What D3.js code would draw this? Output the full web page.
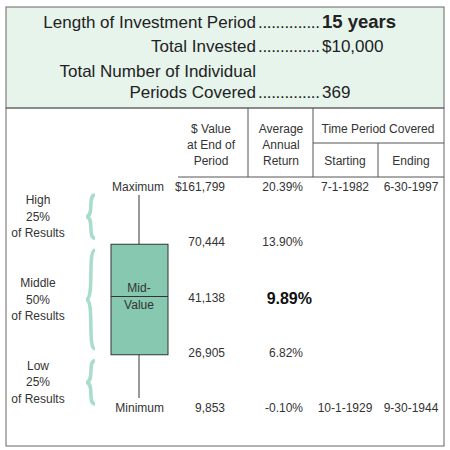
<!DOCTYPE html>
<html><head><meta charset="utf-8">
<script src="https://cdn.jsdelivr.net/npm/d3@7"></script>
<style>body{margin:0;background:#fff}svg{font-family:"Liberation Sans",Arial,sans-serif}</style>
</head><body>
<script>
// summary figures
var summaryLabels = ["Length of Investment Period", "Total Invested", "Total Number of Individual", "Periods Covered"];
var summaryValues = ["15 years", "$10,000", "", "369"];

// distribution rows
var rowKeys = ["max", "q3", "mid", "q1", "min"];
var rowNames = ["Maximum", "", "", "", "Minimum"];
var endValues = ["$161,799", "70,444", "41,138", "26,905", "9,853"];
var avgReturns = ["20.39%", "13.90%", "9.89%", "6.82%", "-0.10%"];
var startDates = ["7-1-1982", "", "", "", "10-1-1929"];
var endDates = ["6-30-1997", "", "", "", "9-30-1944"];

var groupLabels = [["High", "25%", "of Results"], ["Middle", "50%", "of Results"], ["Low", "25%", "of Results"]];
var groupSpans = [["max", "q3"], ["q3", "q1"], ["q1", "min"]];

var svg = d3.select("body").append("svg").attr("width", 450).attr("height", 450);
var ink = "#333", green = "#e6f4ec", box = "#86c8b0", brace = "#a8dccb";

svg.append("rect").attr("x", 6).attr("y", 7).attr("width", 438).attr("height", 101).attr("fill", green).attr("stroke", "#666");
svg.append("rect").attr("x", 6).attr("y", 108).attr("width", 438).attr("height", 338).attr("fill", "none").attr("stroke", "#666");

// summary lines
var sumY = [28, 52, 77, 98];
summaryLabels.forEach(function (l, i) {
  svg.append("text").attr("x", 256).attr("y", sumY[i]).attr("text-anchor", "end")
    .attr("font-size", 17).attr("fill", "#222").text(l);
  if (summaryValues[i]) {
    svg.append("text").attr("x", 258).attr("y", sumY[i]).attr("font-size", 17).attr("fill", "#222")
      .attr("textLength", 62).text("..............");
    svg.append("text").attr("x", 322).attr("y", sumY[i]).attr("font-size", i === 0 ? 18.5 : 17)
      .attr("font-weight", i === 0 ? "bold" : "normal").attr("fill", "#222").text(summaryValues[i]);
  }
});

// header grid
var grid = [[248, 108, 248, 177], [313, 108, 313, 177], [378, 143, 378, 177], [313, 143, 444, 143], [178, 177, 444, 177]];
svg.selectAll(".grid").data(grid).enter().append("line")
  .attr("x1", d => d[0]).attr("y1", d => d[1]).attr("x2", d => d[2]).attr("y2", d => d[3])
  .attr("stroke", "#555");
function hdr(x, ys, lines) {
  lines.forEach(function (t, i) {
    svg.append("text").attr("x", x).attr("y", ys + i * 16).attr("text-anchor", "middle")
      .attr("font-size", 12).attr("fill", ink).text(t);
  });
}
hdr(211, 133, ["$ Value", "at End of", "Period"]);
hdr(281, 133, ["Average", "Annual", "Return"]);
hdr(378, 133, ["Time Period Covered"]);
hdr(345, 165, ["Starting"]);
hdr(411, 165, ["Ending"]);

var y = d3.scalePoint().domain(rowKeys).range([187, 408]);

// whisker and box
var cx = 139;
svg.append("line").attr("x1", cx).attr("x2", cx).attr("y1", y("max") + 8).attr("y2", y("min") - 10).attr("stroke", ink);
svg.append("rect").attr("x", 111).attr("width", 57).attr("y", y("q3") + 2).attr("height", y("q1") - y("q3"))
  .attr("fill", box).attr("stroke", ink);
svg.append("line").attr("x1", 111).attr("x2", 168).attr("y1", y("mid") - 1).attr("y2", y("mid") - 1).attr("stroke", ink);
svg.append("text").attr("x", cx).attr("y", y("mid") - 6).attr("text-anchor", "middle").attr("font-size", 12).attr("fill", ink).text("Mid-");
svg.append("text").attr("x", cx).attr("y", y("mid") + 11).attr("text-anchor", "middle").attr("font-size", 12).attr("fill", ink).text("Value");

// braces
function bracePath(x, y0, y1) {
  var m = (y0 + y1) / 2, w = 9;
  return "M" + (x + w) + "," + y0 + " C" + (x + 1) + "," + y0 + " " + (x + w) + "," + m + " " + x + "," + m +
    " C" + (x + w) + "," + m + " " + (x + 1) + "," + y1 + " " + (x + w) + "," + y1;
}
groupSpans.forEach(function (s, i) {
  var y0 = y(s[0]) + 8, y1 = y(s[1]) - 4;
  svg.append("path").attr("d", bracePath(86, y0, y1)).attr("fill", "none").attr("stroke", brace).attr("stroke-width", 3.5);
  var m = (y0 + y1) / 2 + 4;
  groupLabels[i].forEach(function (t, j) {
    svg.append("text").attr("x", 38).attr("y", m + (j - 1) * 16.5).attr("text-anchor", "middle")
      .attr("font-size", 12).attr("fill", ink).text(t);
  });
});

// row texts
rowKeys.forEach(function (k, i) {
  var yy = y(k) + 4, big = k === "mid";
  svg.append("text").attr("x", 164).attr("y", yy).attr("text-anchor", "end").attr("font-size", 12).attr("fill", ink).text(rowNames[i]);
  svg.append("text").attr("x", 225).attr("y", yy).attr("text-anchor", "end").attr("font-size", 12).attr("fill", ink).text(endValues[i]);
  svg.append("text").attr("x", big ? 312 : 303).attr("y", big ? yy + 2 : yy).attr("text-anchor", "end")
    .attr("font-size", big ? 16 : 12).attr("font-weight", big ? "bold" : "normal").attr("fill", big ? "#111" : ink).text(avgReturns[i]);
  svg.append("text").attr("x", 345).attr("y", yy).attr("text-anchor", "middle").attr("font-size", 12).attr("fill", ink).text(startDates[i]);
  svg.append("text").attr("x", 411).attr("y", yy).attr("text-anchor", "middle").attr("font-size", 12).attr("fill", ink).text(endDates[i]);
});
</script>
</body></html>
